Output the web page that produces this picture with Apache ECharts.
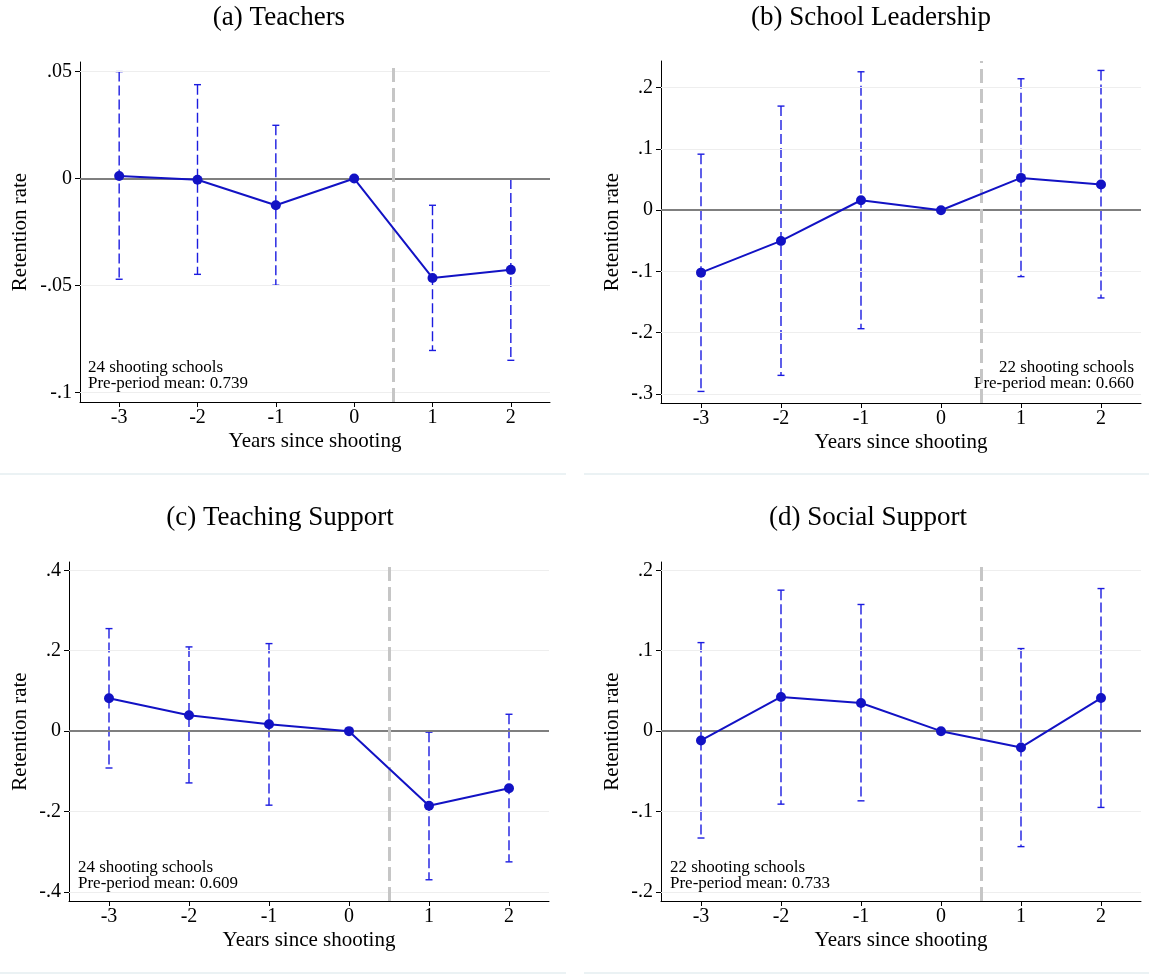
<!DOCTYPE html>
<html>
<head>
<meta charset="utf-8">
<script src="https://cdn.jsdelivr.net/npm/echarts@6/dist/echarts.min.js"></script>
<style>
html,body{margin:0;padding:0;background:#fff;}
#chart{width:1149px;height:975px;}
</style>
</head>
<body>
<div id="chart"></div>
<script>
// ---- data ----
const years = [-3, -2, -1, 0, 1, 2];
const xTicks = [-3, -2, -1, 0, 1, 2];

const teachersEst = [0.0012, -0.0006, -0.0125, 0, -0.0465, -0.0427];
const teachersLo  = [-0.0471, -0.0448, -0.0499, 0, -0.0804, -0.0850];
const teachersHi  = [0.0500, 0.0439, 0.0249, 0, -0.0125, -0.0002];
const teachersTicks = [-0.1, -0.05, 0, 0.05];

const leadershipEst = [-0.1019, -0.0501, 0.0163, 0, 0.0528, 0.0419];
const leadershipLo  = [-0.2958, -0.2696, -0.1934, 0, -0.1084, -0.1432];
const leadershipHi  = [0.0915, 0.1700, 0.2260, 0, 0.2146, 0.2282];
const leadershipTicks = [-0.3, -0.2, -0.1, 0, 0.1, 0.2];

const teachingEst = [0.0817, 0.0396, 0.0173, 0, -0.1856, -0.1419];
const teachingLo  = [-0.0916, -0.1287, -0.1840, 0, -0.3695, -0.3250];
const teachingHi  = [0.2550, 0.2095, 0.2177, 0, -0.0025, 0.0420];
const teachingTicks = [-0.4, -0.2, 0, 0.2, 0.4];

const socialEst = [-0.0115, 0.0425, 0.0350, 0, -0.0202, 0.0412];
const socialLo  = [-0.1328, -0.0907, -0.0866, 0, -0.1435, -0.0948];
const socialHi  = [0.1101, 0.1753, 0.1575, 0, 0.1027, 0.1773];
const socialTicks = [-0.2, -0.1, 0, 0.1, 0.2];

const titles = ['(a) Teachers', '(b) School Leadership', '(c) Teaching Support', '(d) Social Support'];
const notes = [
  ['24 shooting schools', 'Pre-period mean: 0.739'],
  ['22 shooting schools', 'Pre-period mean: 0.660'],
  ['24 shooting schools', 'Pre-period mean: 0.609'],
  ['22 shooting schools', 'Pre-period mean: 0.733']
];
const treatLine = 0.5;

// ---- layout ----
const panels = [
  {est: teachersEst, lo: teachersLo, hi: teachersHi, ticks: teachersTicks, ymin: -0.1045, ymax: 0.0545,
   grid: {left: 80, top: 62, width: 470, height: 340}, nameGap: 49,
   title: [279, 18], note: {x: 88, y: 368, align: 'left'}},
  {est: leadershipEst, lo: leadershipLo, hi: leadershipHi, ticks: leadershipTicks, ymin: -0.3147, ymax: 0.2436,
   grid: {left: 661, top: 61, width: 480, height: 342}, nameGap: 38,
   title: [871, 18], note: {x: 1134, y: 368, align: 'right'}},
  {est: teachingEst, lo: teachingLo, hi: teachingHi, ticks: teachingTicks, ymin: -0.4223, ymax: 0.4206,
   grid: {left: 69, top: 562, width: 480, height: 339}, nameGap: 38,
   title: [280, 518], note: {x: 78, y: 868, align: 'left'}},
  {est: socialEst, lo: socialLo, hi: socialHi, ticks: socialTicks, ymin: -0.2111, ymax: 0.2103,
   grid: {left: 661, top: 562, width: 480, height: 339}, nameGap: 38,
   title: [868, 518], note: {x: 670, y: 868, align: 'left'}}
];

const FONT = '"Liberation Serif", "Times New Roman", serif';
const lineColor = '#1212c4';
const barColor = '#1c1ce0';

function fmt(v) {
  if (Math.abs(v) < 1e-9) return '0';
  return String(+v.toFixed(3)).replace('0.', '.');
}

const grids = [], xAxes = [], yAxes = [], series = [], graphics = [];

panels.forEach((p, i) => {
  grids.push(Object.assign({containLabel: false}, p.grid));
  xAxes.push({
    type: 'value', gridIndex: i, min: -3.5, max: 2.5,
    name: 'Years since shooting', nameLocation: 'middle', nameGap: 29,
    nameTextStyle: {fontFamily: FONT, fontSize: 21, color: '#000'},
    axisLine: {show: true, onZero: false, lineStyle: {color: '#000', width: 1}},
    axisTick: {show: true, length: 5, customValues: xTicks, lineStyle: {color: '#000'}},
    axisLabel: {customValues: xTicks, fontFamily: FONT, fontSize: 20, color: '#000', margin: 6,
      formatter: v => String(v)},
    splitLine: {show: false}
  });
  yAxes.push({
    type: 'value', gridIndex: i, min: p.ymin, max: p.ymax,
    name: 'Retention rate', nameLocation: 'middle', nameGap: p.nameGap, nameRotate: 90,
    nameTextStyle: {fontFamily: FONT, fontSize: 21, color: '#000'},
    axisLine: {show: true, onZero: false, lineStyle: {color: '#000', width: 1}},
    axisTick: {show: true, length: 5, customValues: p.ticks, lineStyle: {color: '#000'}},
    axisLabel: {customValues: p.ticks, fontFamily: FONT, fontSize: 20, color: '#000', margin: 8,
      formatter: v => fmt(v)},
    splitLine: {show: false}
  });

  // reference lines: gridlines, zero line, treatment line
  const gridMarks = p.ticks.filter(v => Math.abs(v) > 1e-9).map(v => ({
    yAxis: v, lineStyle: {color: '#eeeeee', width: 1, type: 'solid'}
  }));
  series.push({
    type: 'line', xAxisIndex: i, yAxisIndex: i, data: [], z: 1, silent: true,
    markLine: {
      silent: true, symbol: 'none', label: {show: false}, animation: false,
      data: gridMarks.concat([
        {yAxis: 0, lineStyle: {color: '#7f7f7f', width: 2, type: 'solid'}},
        {xAxis: treatLine, lineStyle: {color: '#c6c6c6', width: 3, type: [14, 6]}}
      ])
    }
  });

  // error bars
  series.push({
    type: 'custom', xAxisIndex: i, yAxisIndex: i, z: 3, silent: true,
    data: years.map((y, k) => [y, p.lo[k], p.hi[k]]),
    encode: {x: 0, y: [1, 2]},
    renderItem: (params, api) => {
      const x = api.value(0), lo = api.value(1), hi = api.value(2);
      if (Math.abs(hi - lo) < 1e-9) return null;
      const a = api.coord([x, hi]), b = api.coord([x, lo]);
      const w = 3.5;
      return {
        type: 'group', children: [
          {type: 'line', shape: {x1: a[0], y1: a[1], x2: b[0], y2: b[1]},
           style: {stroke: barColor, lineWidth: 1.4, lineDash: [10, 4]}},
          {type: 'line', shape: {x1: a[0] - w, y1: a[1], x2: a[0] + w, y2: a[1]},
           style: {stroke: barColor, lineWidth: 1.4}},
          {type: 'line', shape: {x1: b[0] - w, y1: b[1], x2: b[0] + w, y2: b[1]},
           style: {stroke: barColor, lineWidth: 1.4}}
        ]
      };
    }
  });

  // point estimates
  series.push({
    type: 'line', xAxisIndex: i, yAxisIndex: i, z: 5, silent: true,
    data: years.map((y, k) => [y, p.est[k]]),
    symbol: 'circle', symbolSize: 10, showAllSymbol: true,
    lineStyle: {color: lineColor, width: 2},
    itemStyle: {color: lineColor}
  });

  graphics.push({
    type: 'text', x: p.title[0], y: p.title[1],
    style: {text: titles[i], font: '27px ' + FONT, fill: '#000', textAlign: 'center', textVerticalAlign: 'middle'}
  });
  graphics.push({
    type: 'text', x: p.note.x, y: p.note.y - 8,
    style: {text: notes[i].join('\n'), font: '17px ' + FONT, fill: '#000', textAlign: p.note.align,
      textVerticalAlign: 'top', lineHeight: 16}
  });
});

// panel separators
graphics.push({type: 'line', shape: {x1: 0, y1: 474, x2: 566, y2: 474}, style: {stroke: '#e4eef0', lineWidth: 1.5}});
graphics.push({type: 'line', shape: {x1: 584, y1: 474, x2: 1149, y2: 474}, style: {stroke: '#e4eef0', lineWidth: 1.5}});
graphics.push({type: 'line', shape: {x1: 0, y1: 973, x2: 566, y2: 973}, style: {stroke: '#e4eef0', lineWidth: 1.5}});
graphics.push({type: 'line', shape: {x1: 584, y1: 973, x2: 1149, y2: 973}, style: {stroke: '#e4eef0', lineWidth: 1.5}});

const chart = echarts.init(document.getElementById('chart'), null, {renderer: 'canvas'});
chart.setOption({
  animation: false,
  backgroundColor: '#fff',
  grid: grids, xAxis: xAxes, yAxis: yAxes, series: series, graphic: graphics
});
</script>
</body>
</html>
